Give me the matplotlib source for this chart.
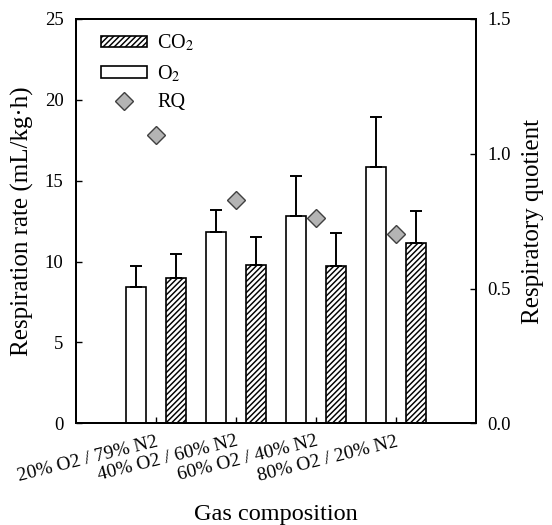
import matplotlib
matplotlib.use("Agg")
import matplotlib.pyplot as plt
import numpy as np
from matplotlib.patches import Patch
from matplotlib.lines import Line2D

# ─── DATA ───────────────────────────────────────────────────────────────────
categories = ["20% O2 / 79% N2", "40% O2 / 60% N2", "60% O2 / 40% N2", "80% O2 / 20% N2"]
o2_rate  = [8.4, 11.8, 12.8, 15.85]
o2_err   = [1.3, 1.4, 2.5, 3.1]
co2_rate = [9.0, 9.77, 9.73, 11.15]
co2_err  = [1.45, 1.75, 2.05, 2.0]
rq       = [1.068, 0.83, 0.763, 0.704]

plt.rcParams["font.family"] = ["Liberation Serif", "DejaVu Serif"]
plt.rcParams["mathtext.fontset"] = "stix"
plt.rcParams["hatch.linewidth"] = 1.05

x = np.arange(len(categories))
w = 0.25

fig = plt.figure(figsize=(5.52, 5.25), dpi=100)
ax = fig.add_axes([76 / 552, 1 - 423.3 / 525, 400 / 552, 404.3 / 525])
ax2 = ax.twinx()

err_kw = dict(ecolor="black", elinewidth=1.4, capsize=4.5, capthick=1.4)
ax.bar(x - w, o2_rate, w, color="white", edgecolor="black", linewidth=1.2,
       yerr=[np.zeros(len(x)), o2_err], error_kw=err_kw, zorder=2)
ax.bar(x + w, co2_rate, w, color="white", edgecolor="black", linewidth=1.2,
       hatch="//////", yerr=[np.zeros(len(x)), co2_err], error_kw=err_kw, zorder=2)
ax2.plot(x, rq, linestyle="None", marker="D", markersize=8.8,
         markerfacecolor="#B4B4B4", markeredgecolor="#404040", markeredgewidth=1.0)

ax.set_xlim(-1, 4)
ax.set_ylim(0, 25)
ax2.set_ylim(0, 1.5)
ax.set_yticks([0, 5, 10, 15, 20, 25])
ax2.set_yticks([0.0, 0.5, 1.0, 1.5])
ax2.set_yticklabels(["0.0", "0.5", "1.0", "1.5"])
ax.set_xticks(x)
ax.set_xticklabels(categories, rotation=14, ha="right", rotation_mode="anchor")

for a in (ax, ax2):
    for s in a.spines.values():
        s.set_linewidth(1.4)
    a.tick_params(direction="in", length=4, width=1.0, labelsize=13.5, pad=9)
ax2.tick_params(pad=8)
ax.tick_params(axis="x", labelsize=14, pad=7, length=4)

ax.set_ylabel("Respiration rate (mL/kg·h)", fontsize=18)
ax.yaxis.set_label_coords(-0.105, 0.5)
ax2.set_ylabel("Respiratory quotient", fontsize=18, labelpad=8.5)
ax.set_xlabel("Gas composition", fontsize=17.5)
ax.xaxis.set_label_coords(0.5, -0.2)

handles = [
    Patch(facecolor="white", edgecolor="black", hatch="//////", linewidth=1.2, label="CO$_2$"),
    Patch(facecolor="white", edgecolor="black", linewidth=1.2, label="O$_2$"),
    Line2D([0], [0], linestyle="None", marker="D", markersize=8.8,
           markerfacecolor="#B4B4B4", markeredgecolor="#404040", label="RQ"),
]
ax.legend(handles=handles, loc="upper left", frameon=False, fontsize=14.5,
          handlelength=2.28, handleheight=0.5, labelspacing=0.47,
          borderaxespad=0.3, handletextpad=0.5, bbox_to_anchor=(0.028, 1.0))

fig.savefig("out.png", dpi=100)
